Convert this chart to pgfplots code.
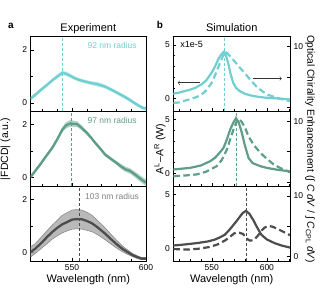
\documentclass[border=0pt]{standalone}
\usepackage{fontspec}
\setmainfont{Liberation Sans}
\usepackage{pgfplots}
\usepackage{pgfplotstable}
\pgfplotsset{compat=1.18}
\usepgfplotslibrary{fillbetween}
\definecolor{cA}{HTML}{70CFD0}
\definecolor{cB}{HTML}{5E9E89}
\definecolor{cC}{HTML}{4D4D4D}
\definecolor{bandC}{HTML}{A8A8A8}

\pgfplotstableread{
x y lo hi
522 0.17 0.09 0.25
526 0.35 0.28 0.42
529 0.50 0.43 0.57
533 0.68 0.61 0.75
536.5 0.85 0.78 0.92
540 1.00 0.93 1.07
543.5 1.14 1.06 1.22
546 1.10 1.02 1.18
549 1.02 0.94 1.10
552 0.93 0.86 1.00
556 0.85 0.78 0.92
560 0.79 0.72 0.86
564 0.74 0.67 0.81
567 0.71 0.62 0.80
570 0.66 0.58 0.74
573 0.60 0.53 0.67
577 0.49 0.42 0.56
581 0.37 0.30 0.44
586 0.22 0.15 0.29
590 0.08 0.01 0.15
593 -0.03 -0.10 0.04
596 -0.13 -0.20 -0.06
598 -0.19 -0.26 -0.12
600 -0.21 -0.29 -0.13
}\tA
\pgfplotstableread{
x y lo hi
522 0.03 -0.04 0.10
525 0.25 0.18 0.32
528.7 0.52 0.45 0.59
532 0.78 0.71 0.85
536.5 1.12 1.05 1.19
540 1.45 1.37 1.53
543.3 1.80 1.70 1.90
546 1.98 1.86 2.10
549 2.05 1.92 2.18
551 2.03 1.91 2.15
553.4 2.02 1.91 2.13
556 1.90 1.81 1.99
560 1.69 1.61 1.77
563 1.50 1.43 1.57
565.7 1.31 1.24 1.38
569 1.10 1.03 1.17
572.4 0.87 0.80 0.94
576 0.72 0.65 0.79
580 0.56 0.49 0.63
583 0.43 0.34 0.52
586 0.32 0.22 0.42
589 0.26 0.16 0.36
592.6 0.12 0.01 0.23
596 -0.03 -0.15 0.09
600 -0.19 -0.32 -0.06
}\tB
\pgfplotstableread{
x y lo hi
522 0.02 -0.17 0.22
525 0.14 -0.04 0.33
529.8 0.39 0.18 0.62
533 0.58 0.33 0.82
536.5 0.77 0.50 1.03
540 0.93 0.63 1.22
543.3 1.06 0.74 1.40
546 1.13 0.80 1.48
550 1.24 0.88 1.60
553 1.26 0.89 1.62
556.7 1.25 0.88 1.60
560 1.19 0.84 1.52
563.5 1.10 0.78 1.40
567 0.96 0.68 1.22
572.4 0.71 0.48 0.93
576 0.52 0.33 0.70
580 0.32 0.17 0.47
584 0.14 0.03 0.25
588 0.00 -0.08 0.08
591 -0.10 -0.16 -0.04
594.8 -0.19 -0.24 -0.14
597 -0.23 -0.27 -0.19
600 -0.23 -0.27 -0.19
}\tC

\pgfplotsset{
  base/.style={scale only axis, height=74.8pt,
    tick align=inside, xtick pos=bottom,
    major tick length=3pt, minor tick length=2pt,
    tick label style={font=\fontsize{8.5}{9}\selectfont},
    /pgf/number format/assume math mode=true,
    axis line style={line width=0.6pt},
    every tick/.style={black, line width=0.5pt},
    clip=true},
  lpanel/.style={base, width=115.3pt, xmin=522, xmax=600, ymin=-0.32, ymax=2.5,
    ytick pos=left,
    xtick={550,600}, minor xtick={530,540,560,570,580,590},
    ytick={0,2}, minor ytick={1}},
  rpanel/.style={base, width=116.7pt, xmin=515, xmax=621, ymin=-1.2, ymax=5.75,
    ytick pos=left,
    xtick={550,600}, minor xtick={520,530,540,560,570,580,590,610,620},
    ytick={0,5}, minor ytick={1,2,3,4}},
  rtwin/.style={base, width=116.7pt, xmin=515, xmax=621, ymin=-0.7, ymax=11.6,
    axis x line=none, axis y line*=right, ytick={0,5,10}},
  exline/.style={line width=2.3pt},
  simsolid/.style={line width=2.2pt},
  simdash/.style={line width=2.2pt, dash pattern=on 6.5pt off 3.5pt},
  vdash/.style={line width=0.9pt, dash pattern=on 3pt off 2pt},
}

\begin{document}
\begin{tikzpicture}[x=1pt,y=1pt]

% ---------- left column ----------
\begin{axis}[lpanel, at={(30.7pt,188.5pt)}, anchor=south west, xticklabels={}]
\addplot[name path=hA, draw=none, forget plot] table[x=x,y=hi]{\tA};
\addplot[name path=lA, draw=none, forget plot] table[x=x,y=lo]{\tA};
\addplot[cA, fill opacity=0.45, draw=none] fill between[of=hA and lA];
\addplot[cA, exline] table[x=x,y=y]{\tA};
\addplot[cA, vdash] coordinates {(543.5,-0.32) (543.5,2.5)};
\node[anchor=east, text=cA, font=\fontsize{8.5}{9}\selectfont] at (rel axis cs:0.95,0.88) {92 nm radius};
\end{axis}

\begin{axis}[lpanel, at={(30.7pt,113.8pt)}, anchor=south west, xticklabels={}]
\addplot[name path=hB, draw=none, forget plot] table[x=x,y=hi]{\tB};
\addplot[name path=lB, draw=none, forget plot] table[x=x,y=lo]{\tB};
\addplot[cB, fill opacity=0.45, draw=none] fill between[of=hB and lB];
\addplot[cB, exline] table[x=x,y=y]{\tB};
\addplot[cB, vdash] coordinates {(549.5,-0.32) (549.5,2.5)};
\node[anchor=east, text=cB, font=\fontsize{8.5}{9}\selectfont] at (rel axis cs:0.95,0.88) {97 nm radius};
\end{axis}

\begin{axis}[lpanel, at={(30.7pt,39pt)}, anchor=south west]
\addplot[name path=hC, draw=none, forget plot] table[x=x,y=hi]{\tC};
\addplot[name path=lC, draw=none, forget plot] table[x=x,y=lo]{\tC};
\addplot[bandC, fill opacity=0.8, draw=none] fill between[of=hC and lC];
\addplot[gray, line width=0.5pt, forget plot] table[x=x,y=hi]{\tC};
\addplot[gray, line width=0.5pt, forget plot] table[x=x,y=lo]{\tC};
\addplot[cC, exline] table[x=x,y=y]{\tC};
\addplot[cC, vdash] coordinates {(555,-0.32) (555,2.5)};
\node[anchor=east, text=gray, font=\fontsize{8.5}{9}\selectfont] at (rel axis cs:0.97,0.865) {103 nm radius};
\end{axis}

% ---------- right column, top ----------
\begin{axis}[rpanel, at={(173.3pt,188.5pt)}, anchor=south west, xticklabels={}]
\addplot[cA, simsolid] coordinates {
(515,0.45) (520,0.55) (525.5,0.70) (530,0.82) (535,1.0) (540.6,1.32) (545,1.7)
(549.7,2.39) (553,3.0) (555.7,3.62) (558.5,4.1) (561.2,4.38) (563,3.95) (564.8,3.31)
(567,2.3) (569.4,1.47) (572,1.0) (575,0.72) (580,0.45) (585,0.30) (590,0.20)
(598,0.09) (605,0.04) (612,0.0) (621,-0.08)};
\addplot[cA, vdash] coordinates {(561.8,-1.2) (561.8,5.75)};
\draw[->, line width=0.6pt, black!80] (axis cs:539,1.47) -- (axis cs:519,1.47);
\draw[->, line width=0.6pt, black!80] (axis cs:587.5,1.87) -- (axis cs:613.5,1.87);
\node[anchor=west, font=\fontsize{9}{10}\selectfont] at (rel axis cs:0.03,0.9) {x1e-5};
\end{axis}
\begin{axis}[rtwin, at={(173.3pt,188.5pt)}, anchor=south west, yticklabels={,,10}]
\addplot[cA, simdash] coordinates {
(515,0.7) (520,0.78) (528.5,1.23) (535,1.6) (540.6,2.05) (545,2.8) (549.7,3.97)
(553.5,5.5) (557.3,7.25) (560,8.4) (562.4,9.15) (565,8.7) (567.5,8.2) (570.9,7.5)
(575,6.6) (580,5.6) (585,4.5) (590.6,3.4) (596,2.6) (601,2.05) (608,1.6) (614,1.3) (621,1.0)};
\end{axis}

% ---------- right column, middle ----------
\begin{axis}[rpanel, at={(173.3pt,113.8pt)}, anchor=south west, xticklabels={}]
\addplot[cB, simsolid] coordinates {
(515,0.35) (522,0.42) (530,0.5) (540,0.72) (548.5,1.12) (553,1.45) (557,1.9)
(560.6,2.36) (563.5,3.1) (566.6,4.05) (569.5,4.7) (572,5.13) (574.5,4.7) (577.3,3.75)
(580,2.6) (583.3,1.44) (587,0.95) (594,0.66) (600,0.50) (610,0.32) (621,0.18)};
\addplot[cB, vdash] coordinates {(572.7,-1.2) (572.7,5.75)};
\end{axis}
\begin{axis}[rtwin, at={(173.3pt,113.8pt)}, anchor=south west, yticklabels={,,10}]
\addplot[cB, simdash] coordinates {
(515,0.95) (525,1.05) (536,1.23) (545,1.7) (554.5,2.6) (559,3.6) (563.6,5.3)
(566.5,6.9) (569.6,8.6) (572,9.7) (574.2,10.4) (577,9.9) (580,9.0) (583.3,7.5)
(588,6.1) (594,4.8) (600,3.8) (606,2.9) (612,2.3) (621,1.6)};
\end{axis}

% ---------- right column, bottom ----------
\begin{axis}[rpanel, at={(173.3pt,39pt)}, anchor=south west]
\addplot[cC, simsolid] coordinates {
(515,0.24) (520,0.28) (528.5,0.37) (537,0.47) (546.6,0.62) (553,0.8) (557,0.98)
(561.8,1.24) (566,1.7) (570.9,2.31) (575,2.85) (578,3.25) (581,3.46) (584,3.2)
(587.5,2.63) (591,1.95) (595,1.24) (600,0.8) (607,0.46) (614,0.22) (621,0.05)};
\addplot[cC, vdash] coordinates {(581,-1.2) (581,5.75)};
\end{axis}
\begin{axis}[rtwin, at={(173.3pt,39pt)}, anchor=south west, yticklabels={0,,10}]
\addplot[cC, simdash] coordinates {
(515,1.28) (520,1.22) (528.5,1.18) (537,1.3) (546.6,1.56) (555,2.0) (561.8,2.65)
(566,3.2) (570,3.8) (572.4,4.0) (575,3.95) (578.5,3.73) (581.5,3.0) (584.5,2.65)
(587,2.7) (589,2.9) (592,3.5) (595,4.27) (598,4.8) (601,5.08) (605,4.95) (610,4.55)
(615,4.1) (619,3.73) (621,3.55)};
\end{axis}

% ---------- labels ----------
\node[font=\fontsize{10}{11}\selectfont\bfseries] at (10.8pt,274.5pt) {a};
\node[font=\fontsize{10}{11}\selectfont\bfseries] at (160pt,275pt) {b};
\node[anchor=base, font=\fontsize{11}{12}\selectfont] at (88.3pt,268.5pt) {Experiment};
\node[anchor=base, font=\fontsize{11}{12}\selectfont] at (231.7pt,268.5pt) {Simulation};
\node[anchor=base, font=\fontsize{11}{12}\selectfont] at (88.3pt,17.5pt) {Wavelength (nm)};
\node[anchor=base, font=\fontsize{11}{12}\selectfont] at (231.7pt,17.5pt) {Wavelength (nm)};
\node[rotate=90, font=\fontsize{10.5}{12}\selectfont] at (5.5pt,151pt) {|FDCD| (a.u.)};
\node[rotate=90, font=\fontsize{10.5}{12}\selectfont] at (160pt,151pt) {A\textsuperscript{L}–A\textsuperscript{R} (W)};
\node[rotate=-90, font=\fontsize{10.2}{12}\selectfont] at (310pt,151pt) {Optical Chirality Enhancement (∫ \textit{C dV} / ∫ \textit{C}\textsubscript{CPL} \textit{dV})};

\pgfresetboundingbox
\path[use as bounding box] (0pt,0pt) rectangle (325pt,300pt);
\end{tikzpicture}
\end{document}
